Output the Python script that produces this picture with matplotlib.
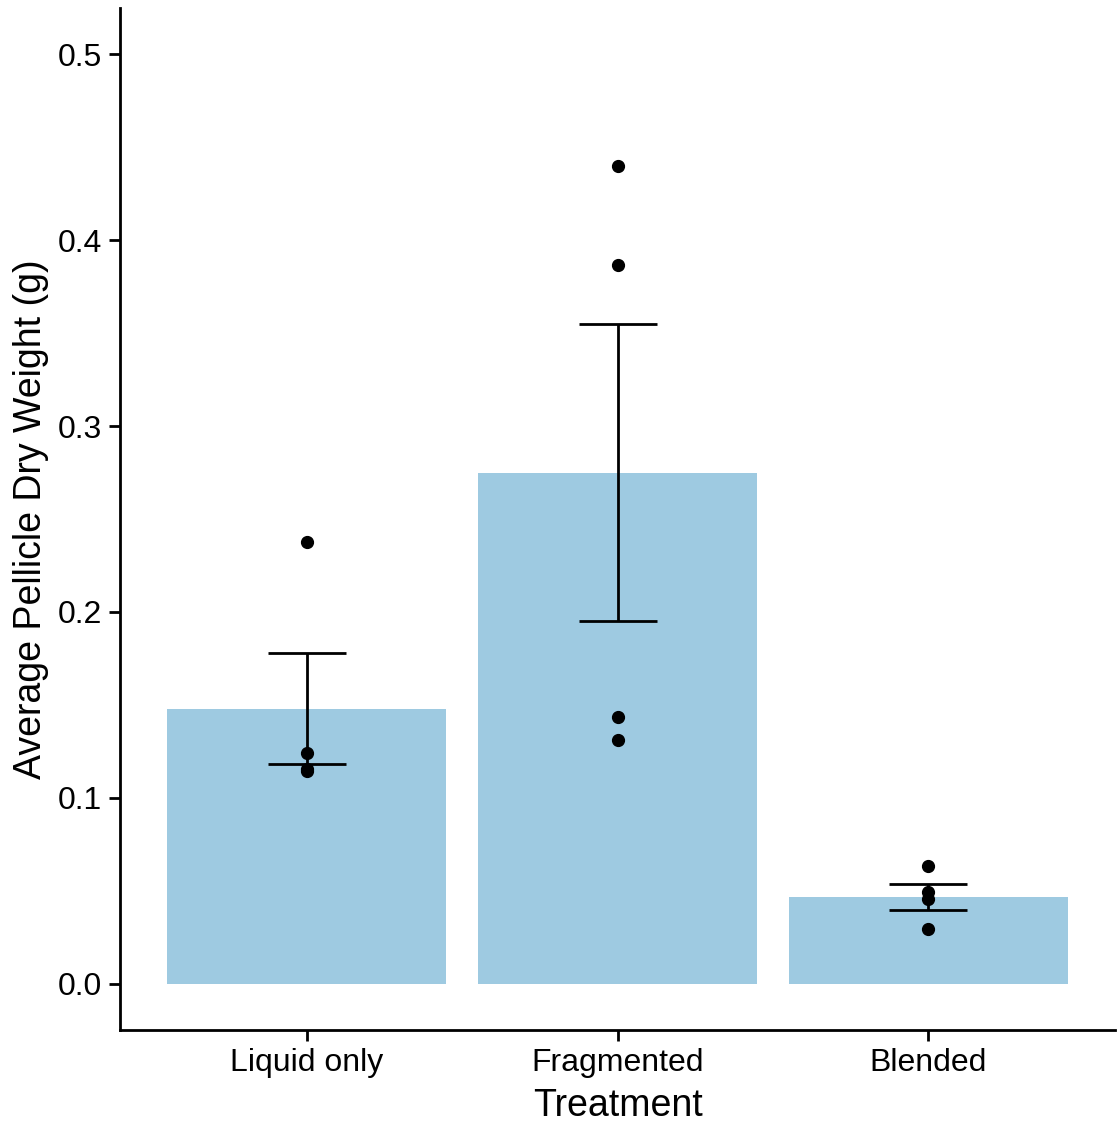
import matplotlib.pyplot as plt
import numpy as np

plt.rcParams['font.family'] = ['Liberation Sans', 'DejaVu Sans']

treatments = ["Liquid only", "Fragmented", "Blended"]
bar_means = [0.148, 0.275, 0.0465]
bar_se = [0.030, 0.080, 0.0070]
points = [
    [0.2376, 0.1240, 0.1156, 0.1145],
    [0.4398, 0.3866, 0.1435, 0.1312],
    [0.0634, 0.0495, 0.0457, 0.0296],
]
yticks = [0.0, 0.1, 0.2, 0.3, 0.4, 0.5]

fig = plt.figure(figsize=(11.17, 11.23), dpi=100)
ax = fig.add_axes([120 / 1117, 93 / 1123, 995 / 1117, 1022 / 1123])

x = np.arange(1, len(treatments) + 1)
ax.bar(x, bar_means, width=0.9, color="#9ecae1", zorder=1)
ax.errorbar(x, bar_means, yerr=bar_se, fmt="none", ecolor="black",
            elinewidth=2, capsize=28, capthick=2, zorder=2)
for xi, pts in zip(x, points):
    ax.plot([xi] * len(pts), pts, "o", color="black", markersize=8.5,
            zorder=3)

ax.set_xlim(0.4, 3.6)
ax.set_ylim(-0.025, 0.525)
ax.set_xticks(x)
ax.set_xticklabels(treatments)
ax.set_yticks(yticks)
ax.set_yticklabels([f"{v:.1f}" for v in yticks])

for side in ["top", "right"]:
    ax.spines[side].set_visible(False)
for side in ["left", "bottom"]:
    ax.spines[side].set_linewidth(2)
ax.tick_params(axis="both", width=2, length=8, labelsize=23, colors="black",
               pad=5)

ax.set_xlabel("Treatment", fontsize=27, labelpad=7)
ax.set_ylabel("Average Pellicle Dry Weight (g)", fontsize=27, labelpad=6)

fig.savefig("out.png", dpi=100)
